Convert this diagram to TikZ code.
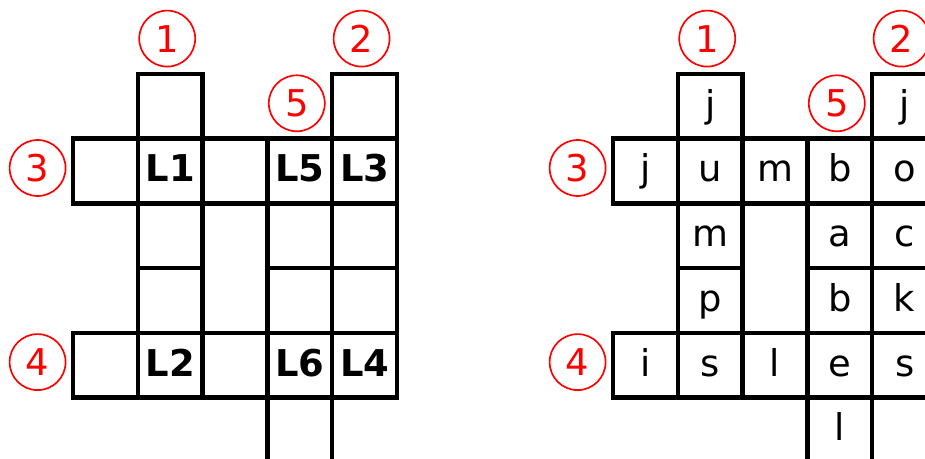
\documentclass[tikz,border=0pt]{standalone}
\usepackage{fontspec}
\setmainfont{DejaVu Sans}
\usepackage{tikz}
\usetikzlibrary{positioning}

\begin{document}
\begin{tikzpicture}[
  x=0.02cm, y=-0.02cm,
  cell/.style={draw=black, line width=2.5pt, minimum size=1.296cm, inner sep=0pt, outer sep=0pt, text height=0.56cm, text depth=0.12cm, font=\fontsize{21}{25}\selectfont},
  clue/.style={circle, draw=red, text=red, line width=0.95pt, minimum size=1.12cm, inner sep=0pt, font=\fontsize{21}{25}\selectfont}
]
  \useasboundingbox (0,0) rectangle (925,459);
  % puzzle (left) and solution (right), one cell per entry
  \foreach \c/\r/\q/\a in {1/0//j, 4/0//j, 0/1//j, 1/1/L1/u, 2/1//m, 3/1/L5/b, 4/1/L3/o,
      1/2//m, 3/2//a, 4/2//c, 1/3//p, 3/3//b, 4/3//k,
      0/4//i, 1/4/L2/s, 2/4//l, 3/4/L6/e, 4/4/L4/s, 3/5//l} {
    \node[cell, font=\fontsize{21}{25}\selectfont\bfseries] (q-\c-\r) at ({105.4+64.8*\c}, {106.3+64.7*\r}) {\q};
    \node[cell] (a-\c-\r) at ({645.4+64.8*\c}, {106.3+64.7*\r}) {\a};
  }
  % numbered clues
  \foreach \n/\c/\r in {1/1/-1, 2/4/-1, 5/3/0, 3/-1/1, 4/-1/4} {
    \node[clue] (qn\n) at ({102.4+64.8*(\c)}, {103.3+64.7*(\r)}) {\n};
    \node[clue] (an\n) at ({642.4+64.8*(\c)}, {103.3+64.7*(\r)}) {\n};
  }
\end{tikzpicture}
\end{document}
